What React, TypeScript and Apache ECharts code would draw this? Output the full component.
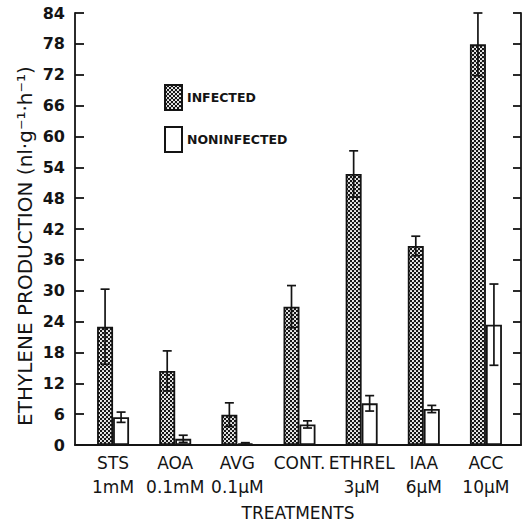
import React, { useEffect, useRef } from "react";
import * as echarts from "echarts";

const categories = ["STS\n1mM", "AOA\n0.1mM", "AVG\n0.1μM", "CONT.", "ETHREL\n3μM", "IAA\n6μM", "ACC\n10μM"];
const infected = [23.0, 14.4, 5.9, 26.9, 52.7, 38.7, 77.9];
const infectedErr = [7.3, 3.9, 2.3, 4.1, 4.5, 1.9, 6.1];
const noninfected = [5.4, 1.2, 0.3, 4.0, 8.1, 7.0, 23.4];
const noninfectedErr = [1.0, 0.7, 0.15, 0.7, 1.5, 0.7, 7.9];
const legendNames = ["INFECTED", "NONINFECTED"];
const yMin = 0;
const yMax = 84;
const yStep = 6;
const yTitle = "ETHYLENE PRODUCTION (nl·g⁻¹·h⁻¹)";
const xTitle = "TREATMENTS";

const FONT = "'DejaVu Sans', sans-serif";
const INK = "#141414";
const BAR_W = 16;

function makePattern() {
  const c = document.createElement("canvas");
  c.width = 4;
  c.height = 4;
  const ctx = c.getContext("2d")!;
  ctx.fillStyle = "#161616";
  ctx.fillRect(0, 0, 4, 4);
  ctx.fillStyle = "#ffffff";
  ctx.beginPath();
  ctx.arc(1, 1, 1.05, 0, Math.PI * 2);
  ctx.fill();
  ctx.beginPath();
  ctx.arc(3, 3, 1.05, 0, Math.PI * 2);
  ctx.fill();
  return { image: c, repeat: "repeat", imageWidth: 4, imageHeight: 4 } as any;
}

function errRender(offset: number) {
  return (params: any, api: any) => {
    const idx = api.value(0);
    const x = api.coord([idx, 0])[0] + offset;
    const lo = api.coord([idx, api.value(1)])[1];
    const hi = api.coord([idx, api.value(2)])[1];
    const st = { stroke: INK, lineWidth: 1.7 };
    const cap = 4.5;
    return {
      type: "group",
      children: [
        { type: "line", shape: { x1: x, y1: lo, x2: x, y2: hi }, style: st },
        { type: "line", shape: { x1: x - cap, y1: hi, x2: x + cap, y2: hi }, style: st },
        { type: "line", shape: { x1: x - cap, y1: lo, x2: x + cap, y2: lo }, style: st },
      ],
    };
  };
}

export default function App() {
  const ref = useRef<HTMLDivElement>(null);
  useEffect(() => {
    if (!ref.current) return;
    const chart = echarts.init(ref.current, undefined, { renderer: "svg" });
    const pattern = makePattern();
    const axisLine = { show: true, onZero: false, lineStyle: { color: INK, width: 1.8 } };
    const option: any = {
      animation: false,
      backgroundColor: "#ffffff",
      legend: {
        orient: "vertical",
        left: 159,
        top: 79,
        itemWidth: 17,
        itemHeight: 25,
        itemGap: 15,
        icon: "rect",
        data: legendNames,
        textStyle: { fontFamily: FONT, fontWeight: "bold", fontSize: 12.5, color: INK },
      },
      grid: [
        { left: 75, right: 2, top: 13, bottom: 81 },
        { left: 82, right: 6, top: 13, bottom: 81 },
      ],
      xAxis: [
        {
          gridIndex: 0,
          type: "value",
          min: 0,
          max: 1,
          axisLine,
          axisTick: { show: false },
          axisLabel: { show: false },
          splitLine: { show: false },
          name: xTitle,
          nameLocation: "middle",
          nameGap: 59,
          nameTextStyle: { fontFamily: FONT, fontSize: 17, color: INK },
        },
        {
          gridIndex: 1,
          type: "category",
          data: categories,
          axisLine: { show: false },
          axisTick: { show: false },
          axisLabel: {
            interval: 0,
            margin: 6,
            lineHeight: 24,
            fontFamily: FONT,
            fontSize: 17,
            color: INK,
          },
        },
      ],
      yAxis: [
        {
          gridIndex: 0,
          type: "value",
          position: "left",
          min: yMin,
          max: yMax,
          interval: yStep,
          axisLine,
          axisTick: { show: true, inside: true, length: 9, lineStyle: { color: INK, width: 1.8 } },
          axisLabel: { margin: 10, fontFamily: FONT, fontWeight: "bold", fontSize: 16, color: INK },
          splitLine: { show: false },
        },
        {
          gridIndex: 0,
          type: "value",
          position: "right",
          min: yMin,
          max: yMax,
          interval: yStep,
          axisLine,
          axisTick: { show: true, inside: true, length: 8, lineStyle: { color: INK, width: 1.8 } },
          axisLabel: { show: false },
          splitLine: { show: false },
        },
        { gridIndex: 1, type: "value", min: yMin, max: yMax, show: false },
      ],
      graphic: [
        {
          type: "text",
          x: 25,
          y: 246,
          rotation: Math.PI / 2,
          style: {
            text: yTitle,
            fontFamily: FONT,
            fontSize: 20,
            fill: INK,
            textAlign: "center",
            textVerticalAlign: "middle",
          },
        },
      ],
      series: [
        {
          name: legendNames[0],
          type: "bar",
          xAxisIndex: 1,
          yAxisIndex: 2,
          barWidth: BAR_W,
          barGap: "0%",
          data: infected,
          itemStyle: { color: pattern, borderColor: INK, borderWidth: 1.8 },
        },
        {
          name: legendNames[1],
          type: "bar",
          xAxisIndex: 1,
          yAxisIndex: 2,
          barWidth: BAR_W,
          barGap: "0%",
          data: noninfected,
          itemStyle: { color: "#ffffff", borderColor: INK, borderWidth: 1.8 },
        },
        {
          name: "errInf",
          type: "custom",
          xAxisIndex: 1,
          yAxisIndex: 2,
          z: 10,
          data: infected.map((v, i) => [i, v - infectedErr[i], v + infectedErr[i]]),
          renderItem: errRender(-BAR_W / 2),
        },
        {
          name: "errNon",
          type: "custom",
          xAxisIndex: 1,
          yAxisIndex: 2,
          z: 10,
          data: noninfected.map((v, i) => [i, Math.max(0, v - noninfectedErr[i]), v + noninfectedErr[i]]),
          renderItem: errRender(BAR_W / 2),
        },
      ],
    };
    chart.setOption(option);
    return () => chart.dispose();
  }, []);
  return (
    <div
      ref={ref}
      style={{ position: "fixed", left: 0, top: 0, width: 523, height: 526, background: "#fff" }}
    />
  );
}
